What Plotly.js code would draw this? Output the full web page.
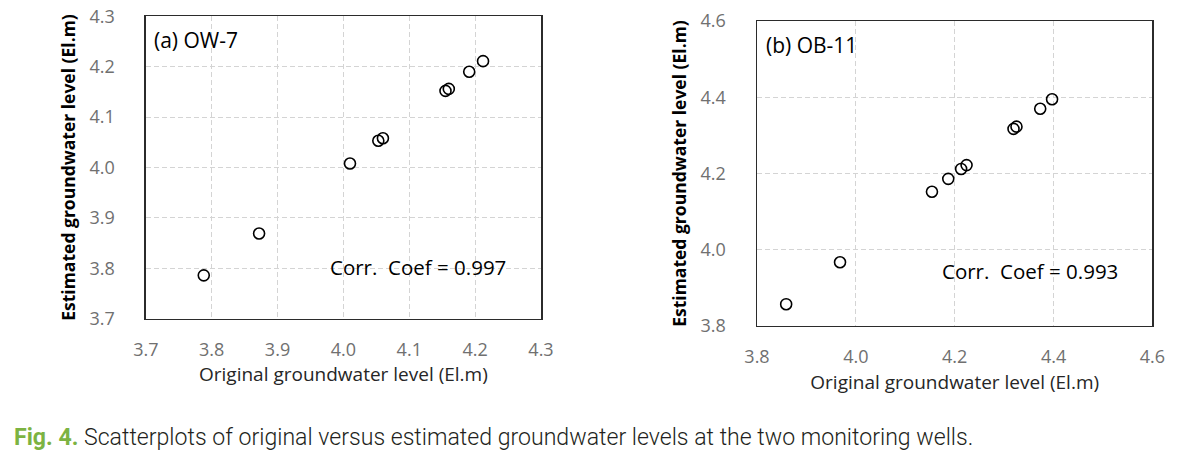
<!DOCTYPE html>
<html>
<head>
<meta charset="utf-8">
<script src="https://cdn.plot.ly/plotly-3.0.1.min.js"></script>
<style>
html,body{margin:0;padding:0;background:#fff;}
#chart{width:1185px;height:455px;}
</style>
</head>
<body>
<div id="chart"></div>
<script>
// (a) OW-7
const ow7Original  = [3.788, 3.872, 4.010, 4.053, 4.060, 4.155, 4.160, 4.191, 4.212];
const ow7Estimated = [3.786, 3.869, 4.008, 4.053, 4.058, 4.152, 4.156, 4.190, 4.211];
// (b) OB-11
const ob11Original  = [3.859, 3.968, 4.154, 4.187, 4.213, 4.224, 4.319, 4.325, 4.373, 4.397];
const ob11Estimated = [3.857, 3.967, 4.152, 4.186, 4.212, 4.222, 4.317, 4.323, 4.370, 4.395];

const ow7Ticks  = [3.7, 3.8, 3.9, 4.0, 4.1, 4.2, 4.3];
const ob11Ticks = [3.8, 4.0, 4.2, 4.4, 4.6];

const panelLabels = ["(a) OW-7", "(b) OB-11"];
const corrLabels  = ["Corr.  Coef = 0.997", "Corr.  Coef = 0.993"];
const xTitle = "Original groundwater level (El.m)";
const yTitle = "Estimated groundwater level (El.m)";
const captionLead = "Fig. 4.";
const captionText = " Scatterplots of original versus estimated groundwater levels at the two monitoring wells.";

const W = 1185, H = 455;
const px = v => v / W;
const py = v => 1 - v / H;

const FONT = "Open Sans, Lato, sans-serif";
const marker = {symbol: 'circle-open', size: 11, color: '#000', line: {width: 1.6, color: '#000'}};

const traces = [
  {x: ow7Original, y: ow7Estimated, type: 'scatter', mode: 'markers', marker: marker, xaxis: 'x', yaxis: 'y', hoverinfo: 'x+y'},
  {x: ob11Original, y: ob11Estimated, type: 'scatter', mode: 'markers', marker: marker, xaxis: 'x2', yaxis: 'y2', hoverinfo: 'x+y'}
];

function axis(ticks, domain, anchor, title, isY) {
  return {
    domain: domain,
    anchor: anchor,
    range: [ticks[0], ticks[ticks.length - 1]],
    tickvals: ticks,
    ticktext: ticks.map(t => t.toFixed(1)),
    showgrid: true,
    gridcolor: '#d4d4d4',
    griddash: '5px,3px',
    gridwidth: 1,
    zeroline: false,
    showline: true,
    mirror: true,
    linecolor: '#2b2b2b',
    linewidth: 1.5,
    ticks: '',
    ticklabelstandoff: isY ? 26 : 14,
    tickfont: {family: FONT, size: 18, color: '#707070'},
    title: {
      text: title,
      standoff: isY ? 9 : 8,
      font: isY ? {family: FONT, size: 17.5, color: '#000', weight: 'bold'} : {family: FONT, size: 19, color: '#262626'}
    },
    fixedrange: true
  };
}

const layout = {
  width: W, height: H,
  margin: {l: 0, r: 0, t: 0, b: 0},
  paper_bgcolor: '#fff',
  plot_bgcolor: '#fff',
  showlegend: false,
  xaxis:  axis(ow7Ticks,  [px(145.8), px(541)],   'y',  xTitle, false),
  yaxis:  axis(ow7Ticks,  [py(318.7), py(16.3)],  'x',  yTitle, true),
  xaxis2: axis(ob11Ticks, [px(757),   px(1152.4)], 'y2', xTitle, false),
  yaxis2: axis(ob11Ticks, [py(325.9), py(21.1)],  'x2', yTitle, true),
  annotations: [
    {xref: 'paper', yref: 'paper', x: px(152), y: py(40), xanchor: 'left', yanchor: 'middle', showarrow: false,
     text: panelLabels[0], font: {family: FONT, size: 21, color: '#000'}},
    {xref: 'paper', yref: 'paper', x: px(764), y: py(45), xanchor: 'left', yanchor: 'middle', showarrow: false,
     text: panelLabels[1], font: {family: FONT, size: 21, color: '#000'}},
    {xref: 'paper', yref: 'paper', x: px(508), y: py(267), xanchor: 'right', yanchor: 'middle', showarrow: false,
     text: corrLabels[0], font: {family: FONT, size: 20.5, color: '#000'}},
    {xref: 'paper', yref: 'paper', x: px(1120), y: py(271), xanchor: 'right', yanchor: 'middle', showarrow: false,
     text: corrLabels[1], font: {family: FONT, size: 20.5, color: '#000'}},
    {xref: 'paper', yref: 'paper', x: px(12), y: py(437), xanchor: 'left', yanchor: 'middle', showarrow: false,
     text: '<span style="color:#7cb342;font-weight:bold">' + captionLead + '</span><span style="font-weight:300">' + captionText + '</span>',
     font: {family: "Roboto, sans-serif", size: 23.1, color: '#231f20'}}
  ]
};

Plotly.newPlot('chart', traces, layout, {staticPlot: true, displayModeBar: false});
</script>
</body>
</html>
